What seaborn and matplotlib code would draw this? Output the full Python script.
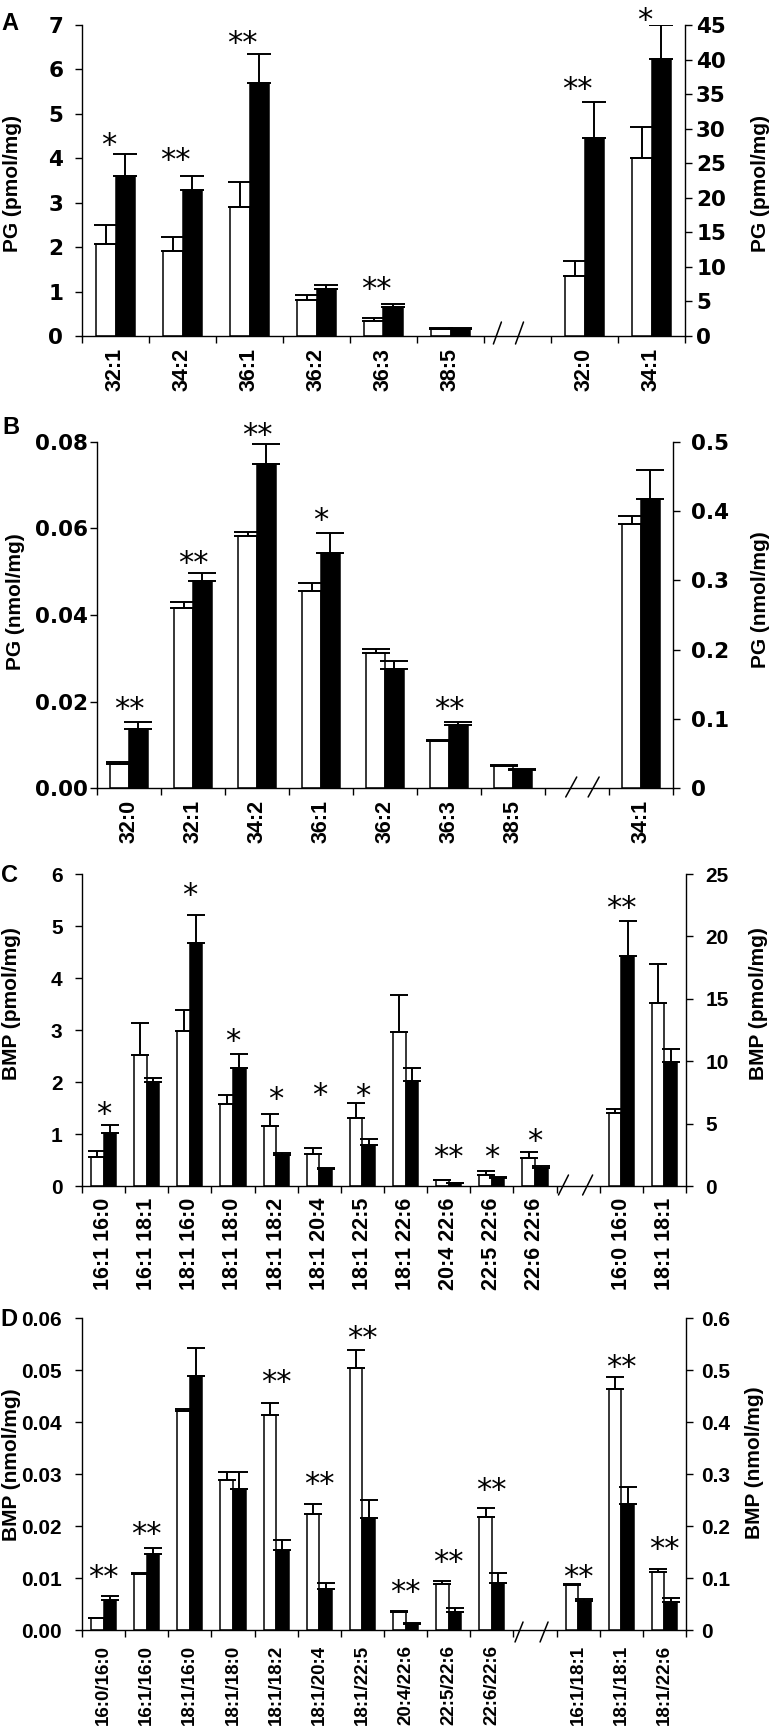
import numpy as np
import pandas as pd
import matplotlib
matplotlib.use("Agg")
import matplotlib.pyplot as plt
import matplotlib.transforms as mtransforms
from matplotlib.container import BarContainer
import seaborn as sns

W, H = 772, 1730
GROUPS = ["control", "mutant"]
PALETTE = {"control": "white", "mutant": "black"}

# ---------------- Panel A : PG (pmol/mg) ----------------
a_left_cats = ["32:1", "34:2", "36:1", "36:2", "36:3", "38:5"]
a_left_white = [2.07, 1.91, 2.90, 0.80, 0.33, 0.16]
a_left_white_err = [0.43, 0.32, 0.57, 0.12, 0.07, 0.02]
a_left_black = [3.60, 3.28, 5.70, 1.05, 0.65, 0.16]
a_left_black_err = [0.50, 0.32, 0.64, 0.10, 0.07, 0.02]
a_left_stars = ["*", "**", "**", "", "**", ""]
a_left_star_y = [4.50, 4.17, 6.80, np.nan, 1.27, np.nan]
a_right_cats = ["32:0", "34:1"]
a_right_white = [8.7, 25.8]
a_right_white_err = [2.2, 4.5]
a_right_black = [28.7, 40.1]
a_right_black_err = [5.1, 4.9]
a_right_stars = ["**", "*"]
a_right_star_y = [37.0, 47.0]

# ---------------- Panel B : PG (nmol/mg) ----------------
b_left_cats = ["32:0", "32:1", "34:2", "36:1", "36:2", "36:3", "38:5"]
b_left_white = [0.0056, 0.0417, 0.0582, 0.0456, 0.0312, 0.0108, 0.0050]
b_left_white_err = [0.0004, 0.0013, 0.0009, 0.0018, 0.0010, 0.0004, 0.0004]
b_left_black = [0.0137, 0.0479, 0.0748, 0.0544, 0.0276, 0.0145, 0.0041]
b_left_black_err = [0.0015, 0.0019, 0.0048, 0.0045, 0.0018, 0.0007, 0.0003]
b_left_stars = ["**", "**", "**", "*", "", "**", ""]
b_left_star_y = [0.0204, 0.0540, 0.0838, 0.0640, np.nan, 0.0204, np.nan]
b_right_cats = ["34:1"]
b_right_white = [0.382]
b_right_white_err = [0.011]
b_right_black = [0.418]
b_right_black_err = [0.042]
b_right_stars = [""]
b_right_star_y = [np.nan]

# ---------------- Panel C : BMP (pmol/mg) ----------------
c_left_cats = ["16:1 16:0", "16:1 18:1", "18:1 16:0", "18:1 18:0", "18:1 18:2",
               "18:1 20:4", "18:1 22:5", "18:1 22:6", "20:4 22:6", "22:5 22:6",
               "22:6 22:6"]
c_left_white = [0.56, 2.51, 2.98, 1.57, 1.16, 0.62, 1.30, 2.97, 0.11, 0.22, 0.53]
c_left_white_err = [0.11, 0.63, 0.40, 0.18, 0.23, 0.12, 0.30, 0.71, 0.01, 0.06, 0.12]
c_left_black = [1.01, 2.00, 4.67, 2.26, 0.60, 0.33, 0.78, 2.02, 0.05, 0.15, 0.35]
c_left_black_err = [0.17, 0.07, 0.54, 0.27, 0.04, 0.01, 0.13, 0.25, 0.01, 0.02, 0.03]
c_left_stars = ["*", "", "*", "*", "*", "*", "*", "", "**", "*", "*"]
c_left_star_y = [1.55, np.nan, 5.76, 2.97, 1.85, 1.93, 1.90, np.nan, 0.73, 0.73, 1.04]
c_right_cats = ["16:0 16:0", "18:1 18:1"]
c_right_white = [5.86, 14.7]
c_right_white_err = [0.32, 3.1]
c_right_black = [18.45, 9.95]
c_right_black_err = [2.75, 1.01]
c_right_stars = ["**", ""]
c_right_star_y = [23.0, np.nan]

# ---------------- Panel D : BMP (nmol/mg) ----------------
d_left_cats = ["16:0/16:0", "16:1/16:0", "18:1/16:0", "18:1/18:0", "18:1/18:2",
               "18:1/20:4", "18:1/22:5", "20:4/22:6", "22:5/22:6", "22:6/22:6"]
d_left_white = [0.00225, 0.0108, 0.0422, 0.0289, 0.0413, 0.0223, 0.0504, 0.0035, 0.0089, 0.0218]
d_left_white_err = [0.0001, 0.0001, 0.0003, 0.0015, 0.0023, 0.0019, 0.0034, 0.0002, 0.0006, 0.0016]
d_left_black = [0.0058, 0.0146, 0.0488, 0.0272, 0.0154, 0.0079, 0.0215, 0.0012, 0.0035, 0.0091]
d_left_black_err = [0.0007, 0.0011, 0.0054, 0.0032, 0.0019, 0.0011, 0.0035, 0.0001, 0.0008, 0.0018]
d_left_stars = ["**", "**", "", "", "**", "**", "**", "**", "**", "**"]
d_left_star_y = [0.0119, 0.0202, np.nan, np.nan, 0.0494, 0.0298, 0.0578, 0.0091, 0.0148, 0.0287]
d_right_cats = ["16:1/18:1", "18:1/18:1", "18:1/22:6"]
d_right_white = [0.087, 0.464, 0.111]
d_right_white_err = [0.001, 0.022, 0.006]
d_right_black = [0.056, 0.243, 0.054]
d_right_black_err = [0.003, 0.032, 0.0085]
d_right_stars = ["**", "**", "**"]
d_right_star_y = [0.119, 0.523, 0.174]


sns.set_theme(style="ticks", rc={
    "axes.edgecolor": "black", "text.color": "black", "axes.labelcolor": "black",
    "xtick.color": "black", "ytick.color": "black", "axes.linewidth": 1.0,
})
plt.rcParams["font.family"] = ["Liberation Sans", "DejaVu Sans"]
plt.rcParams["font.weight"] = "bold"

fig = plt.figure(figsize=(W / 100, H / 100), dpi=100)


def long_df(cats, white, white_err, black, black_err):
    return pd.DataFrame({
        "cat": list(cats) * 2,
        "group": ["control"] * len(cats) + ["mutant"] * len(cats),
        "value": list(white) + list(black),
        "err": list(white_err) + list(black_err),
    })


def draw_bars(ax, df, order, capsize):
    sns.barplot(data=df, x="cat", y="value", hue="group", order=order,
                hue_order=GROUPS, palette=PALETTE, width=0.58, saturation=1,
                edgecolor="black", linewidth=1.1, errorbar=None, legend=False, ax=ax)
    conts = [c for c in ax.containers if isinstance(c, BarContainer)]
    for cont in conts:
        g = "control" if cont.patches[0].get_facecolor()[0] > 0.5 else "mutant"
        sub = df[df.group == g].copy()
        sub["pos"] = [order.index(c) for c in sub.cat]
        sub = sub.sort_values("pos")
        patches = sorted(cont.patches, key=lambda p: p.get_x())
        for p, (_, r) in zip(patches, sub.iterrows()):
            ax.errorbar(p.get_x() + p.get_width() / 2, r.value, yerr=[[0], [r.err]],
                        fmt="none", ecolor="black", elinewidth=1.4, capsize=capsize,
                        capthick=1.4, zorder=3)


def draw_stars(ax, order, cats, marks, ys, dx_px):
    tr = mtransforms.offset_copy(ax.transData, x=dx_px, y=-18, units="dots")
    for c, m, y in zip(cats, marks, ys):
        if m:
            ax.text(order.index(c), y, m, transform=tr, ha="center", va="baseline",
                    fontsize=22, family="DejaVu Sans", fontweight="normal", clip_on=False)


def panel(cfg):
    x0, y0, w, h = cfg["rect"]
    ax = fig.add_axes([x0 / W, 1 - (y0 + h) / H, w / W, h / H])
    tw = ax.twinx()
    order = cfg["left"]["cats"] + [" "] + cfg["right"]["cats"]
    n = len(order)

    for side, a in (("left", ax), ("right", tw)):
        d = cfg[side]
        df = long_df(d["cats"], d["white"], d["white_err"], d["black"], d["black_err"])
        draw_bars(a, df, order, cfg["capsize"])
        draw_stars(a, order, d["cats"], d["stars"], d["star_y"], cfg["star_dx"])
        top, step, fmt = d["ylim"]
        ticks = np.linspace(0, top, int(round(top / step)) + 1)
        a.set_ylim(0, top)
        a.set_yticks(ticks)
        a.set_yticklabels([format(t, fmt) if fmt else f"{t:g}" for t in ticks])
        a.set_ylabel("")
        a.set_xlabel("")

    tw.xaxis.set_visible(False)
    ax.set_xlim(-0.5, n - 0.5)
    ax.set_xticks(range(n))
    ax.set_xticklabels(order, rotation=90, fontsize=cfg["xfs"], fontweight="bold")
    ax.set_xticks(np.arange(-0.5, n), minor=True)
    ax.tick_params(axis="x", which="major", length=0, pad=cfg["xpad"])
    ax.tick_params(axis="x", which="minor", length=5, width=1, direction="out", bottom=True)

    ax.tick_params(axis="y", length=5, width=1, direction="out", left=True,
                   pad=cfg["lpad"], labelsize=cfg["yfs"])
    tw.tick_params(axis="y", length=5, width=1, direction="out", right=True,
                   pad=cfg["rpad"], labelsize=cfg["yfs"])
    for lab in ax.get_yticklabels() + tw.get_yticklabels():
        lab.set_family(cfg["yfont"])
        lab.set_fontweight("bold")

    ax.spines["top"].set_visible(False)
    ax.spines["right"].set_visible(False)
    for s in ("top", "left", "bottom"):
        tw.spines[s].set_visible(False)
    tw.spines["right"].set_linewidth(1.0)

    # axis break marks in the gap slot
    gap = order.index(" ")
    slot_px = w / n
    bt = ax.get_xaxis_transform()
    dx, up, down = cfg["brk_px"]
    for off in cfg["brk_off"]:
        xc = gap + off
        ax.plot([xc - dx / 2 / slot_px, xc + dx / 2 / slot_px], [-down / h, up / h],
                transform=bt, color="black", lw=1.1, clip_on=False, zorder=4)

    for (cx, cy), txt in zip(cfg["ylab_pos"], cfg["ylabels"]):
        fig.text(cx / W, 1 - cy / H, txt, rotation=90, ha="center", va="center",
                 fontsize=15, fontweight="bold")
    lx, ly = cfg["letter_pos"]
    fig.text(lx / W, 1 - ly / H, cfg["letter"], ha="center", va="center",
             fontsize=17, fontweight="bold")


def side(cats, white, white_err, black, black_err, stars, star_y, ylim):
    return dict(cats=cats, white=white, white_err=white_err, black=black,
                black_err=black_err, stars=stars, star_y=star_y, ylim=ylim)


panels = [
    dict(letter="A", rect=(82, 25, 603, 311), capsize=8.4, star_dx=-7,
         left=side(a_left_cats, a_left_white, a_left_white_err, a_left_black,
                   a_left_black_err, a_left_stars, a_left_star_y, (7, 1, "")),
         right=side(a_right_cats, a_right_white, a_right_white_err, a_right_black,
                    a_right_black_err, a_right_stars, a_right_star_y, (45, 5, "")),
         xfs=15.5, xpad=8.6, yfs=15.5, yfont="DejaVu Sans", lpad=8.5, rpad=3,
         brk_off=(-0.30, 0.03), brk_px=(8, 14, 8),
         ylabels=("PG (pmol/mg)", "PG (pmol/mg)"), ylab_pos=((13, 184), (760, 184)),
         letter_pos=(10, 23)),
    dict(letter="B", rect=(97, 442, 576, 346), capsize=10, star_dx=0,
         left=side(b_left_cats, b_left_white, b_left_white_err, b_left_black,
                   b_left_black_err, b_left_stars, b_left_star_y, (0.08, 0.02, ".2f")),
         right=side(b_right_cats, b_right_white, b_right_white_err, b_right_black,
                    b_right_black_err, b_right_stars, b_right_star_y, (0.5, 0.1, "")),
         xfs=15.5, xpad=8.6, yfs=15.5, yfont="DejaVu Sans", lpad=1.5, rpad=8,
         brk_off=(-0.09, 0.26), brk_px=(11, 11, 9),
         ylabels=("PG (nmol/mg)", "PG (nmol/mg)"), ylab_pos=((16, 602), (761, 600)),
         letter_pos=(11, 428)),
    dict(letter="C", rect=(82, 874, 604, 312), capsize=6.5, star_dx=0,
         left=side(c_left_cats, c_left_white, c_left_white_err, c_left_black,
                   c_left_black_err, c_left_stars, c_left_star_y, (6, 1, "")),
         right=side(c_right_cats, c_right_white, c_right_white_err, c_right_black,
                    c_right_black_err, c_right_stars, c_right_star_y, (25, 5, "")),
         xfs=15.5, xpad=8.6, yfs=15, yfont="Liberation Sans", lpad=9, rpad=9,
         brk_off=(-0.34, 0.22), brk_px=(10, 11, 9),
         ylabels=("BMP (pmol/mg)", "BMP (pmol/mg)"), ylab_pos=((12, 1004), (759, 1004)),
         letter_pos=(10, 875)),
    dict(letter="D", rect=(82, 1318, 604, 312), capsize=6.5, star_dx=0,
         left=side(d_left_cats, d_left_white, d_left_white_err, d_left_black,
                   d_left_black_err, d_left_stars, d_left_star_y, (0.06, 0.01, ".2f")),
         right=side(d_right_cats, d_right_white, d_right_white_err, d_right_black,
                    d_right_black_err, d_right_stars, d_right_star_y, (0.6, 0.1, "")),
         xfs=13.5, xpad=10.5, yfs=15, yfont="Liberation Sans", lpad=9.5, rpad=6,
         brk_off=(-0.37, 0.21), brk_px=(8, 8, 12),
         ylabels=("BMP (nmol/mg)", "BMP (nmol/mg)"), ylab_pos=((12, 1465), (754, 1463)),
         letter_pos=(9, 1320)),
]

for cfg in panels:
    panel(cfg)

fig.savefig("out.png", dpi=100)
